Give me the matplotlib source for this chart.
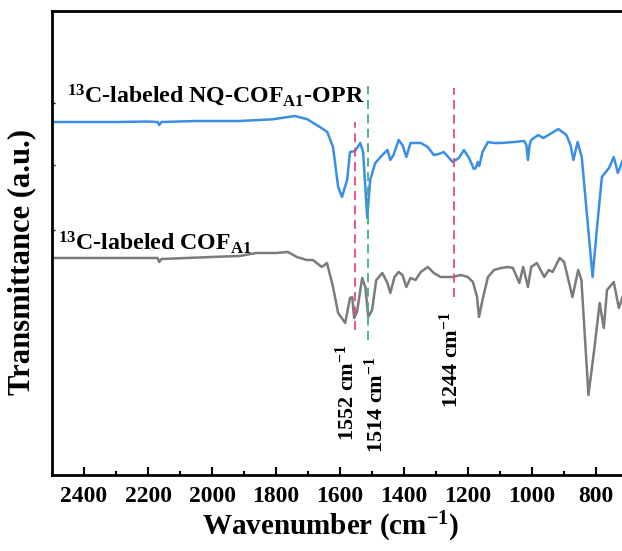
import numpy as np
import matplotlib
matplotlib.use('Agg')
import matplotlib.pyplot as plt
from matplotlib.ticker import MultipleLocator, FixedLocator

# Times-like bold font everywhere
plt.rcParams['font.family'] = ['Liberation Serif', 'DejaVu Serif']
plt.rcParams['font.weight'] = 'bold'
plt.rcParams['axes.labelweight'] = 'bold'
plt.rcParams['mathtext.fontset'] = 'custom'
plt.rcParams['mathtext.rm'] = 'Liberation Serif:bold'
plt.rcParams['mathtext.it'] = 'Liberation Serif:bold'
plt.rcParams['mathtext.bf'] = 'Liberation Serif:bold'

# 13C-labeled NQ-COF_A1-OPR (offset spectrum, a.u.)
wn_opr = [2505, 2300, 2200, 2170, 2165, 2158, 2050, 1914, 1811, 1742, 1704, 1663,
          1640, 1622, 1606, 1594, 1578, 1569, 1553, 1537, 1528, 1515, 1506, 1490,
          1468, 1452, 1443, 1433, 1417, 1405, 1393, 1380, 1348, 1326, 1307, 1292,
          1276, 1248, 1229, 1213, 1197, 1182, 1176, 1170, 1165, 1155, 1138, 1119,
          1097, 1056, 1025, 1018, 1013, 1008, 1003, 981, 965, 949, 918, 893, 880,
          871, 858, 845, 830, 811, 798, 782, 760, 745, 732, 713, 650]
t_opr = [353, 353, 353.5, 353, 350, 353, 354, 354, 355.7, 359, 356, 348,
         343, 328, 288, 278, 295, 323, 324, 332, 323, 257, 295, 312,
         320, 325, 315, 320, 335, 330, 318, 332, 332, 328, 320, 321,
         323, 313, 317, 325, 317, 306, 307, 313, 309, 323, 333, 332,
         332, 333, 334, 330, 315, 330, 335, 340, 337, 340, 346, 340, 330,
         315, 333, 318, 265, 198, 245, 298, 307, 318, 302, 318, 315]

# 13C-labeled COF_A1
wn_cof = [2505, 2300, 2170, 2165, 2158, 2000, 1914, 1861, 1800, 1763, 1735, 1704,
          1685, 1657, 1641, 1622, 1606, 1584, 1569, 1562, 1556, 1547, 1531, 1521,
          1512, 1500, 1487, 1468, 1452, 1443, 1430, 1417, 1405, 1393, 1380, 1364,
          1348, 1326, 1307, 1286, 1248, 1223, 1201, 1185, 1172, 1166, 1153, 1138,
          1119, 1097, 1075, 1060, 1040, 1028, 1013, 1003, 985, 962, 948, 936, 914,
          900, 874, 856, 846, 824, 805, 789, 776, 766, 745, 729, 713, 650]
t_cof = [217, 217, 217, 213, 216, 218, 219, 222, 222, 223, 218, 215,
         215, 208, 212, 188, 162, 152, 177, 178, 157, 163, 197, 188,
         158, 165, 195, 202, 192, 182, 198, 203, 200, 188, 197, 195,
         203, 208, 202, 198, 198, 200, 198, 193, 178, 158, 178, 198,
         205, 207, 208, 207, 192, 208, 188, 208, 212, 198, 205, 203, 217,
         213, 178, 205, 195, 80, 128, 172, 147, 185, 193, 167, 182, 185]

peaks = [1552, 1514, 1244]
peak_colors = ['#e84a7f', '#3fb374', '#e84a7f']
peak_top = [353, 389, 387]
peak_bottom = [145, 135, 178]
peak_labels = ['1552 cm$^{-1}$', '1514 cm$^{-1}$', '1244 cm$^{-1}$']

fig = plt.figure(figsize=(6.22, 5.51), dpi=100)
ax = fig.add_axes([0.0836, 0.138, 0.952, 0.842])

ax.plot(wn_opr, t_opr, color='#3a8ee6', lw=1.8)
ax.plot(wn_cof, t_cof, color='#7b7b7b', lw=1.8)

for p, c, y0, y1 in zip(peaks, peak_colors, peak_bottom, peak_top):
    ax.plot([p, p], [y0, y1], color=c, lw=1.3, ls=(0, (5, 3)))

ax.text(1578, 82, peak_labels[0], rotation=90, ha='center', va='center', fontsize=16)
ax.text(1487, 70, peak_labels[1], rotation=90, ha='center', va='center', fontsize=16)
ax.text(1253, 115, peak_labels[2], rotation=90, ha='center', va='center', fontsize=16)

ax.text(2453, 373, r'$^{13}$C-labeled NQ-COF$_{\rm A1}$-OPR', fontsize=17.2, va='baseline')
ax.text(2481, 225, r'$^{13}$C-labeled COF$_{\rm A1}$', fontsize=17.2, va='baseline')

ax.set_xlim(2500, 650)
ax.set_ylim(0, 464)
ax.xaxis.set_major_locator(MultipleLocator(200))
ax.xaxis.set_minor_locator(MultipleLocator(100))
ax.yaxis.set_major_locator(FixedLocator([372, 310, 245]))
ax.set_yticklabels([])
ax.tick_params(axis='x', which='major', direction='in', length=6, width=1.5,
               labelsize=17, pad=8)
ax.tick_params(axis='x', which='minor', direction='in', length=3, width=1.5)
ax.tick_params(axis='y', which='major', direction='in', length=2, width=1)
for lab in ax.get_xticklabels():
    lab.set_fontweight('bold')
for s in ax.spines.values():
    s.set_linewidth(2)

ax.set_xlabel('Wavenumber (cm$^{-1}$)', fontsize=21, fontweight='bold', labelpad=4)
ax.xaxis.set_label_coords(0.471, -0.075)
ax.set_ylabel('Transmittance (a.u.)', fontsize=22, fontweight='bold')
ax.yaxis.set_label_coords(-0.026, 0.459)

fig.savefig('out.png', dpi=100)
